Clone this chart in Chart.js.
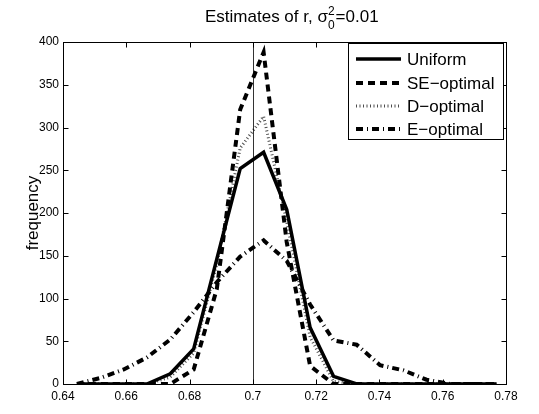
<!DOCTYPE html>
<html>
<head>
<meta charset="utf-8">
<script src="https://cdn.jsdelivr.net/npm/chart.js@4"></script>
<style>
  html, body { margin: 0; padding: 0; background: #fff; }
</style>
</head>
<body>
<canvas id="estimates" width="539" height="414"></canvas>
<script>
// histogram bin centres (estimate of r)
const binCenters = [0.6444, 0.6518, 0.6592, 0.6665, 0.6739, 0.6813, 0.6886, 0.6960, 0.7034, 0.7107,
                    0.7181, 0.7255, 0.7328, 0.7402, 0.7476, 0.7549, 0.7623, 0.7697, 0.7770];

// frequencies per design
const uniform   = [0, 0, 0, 0, 12, 41, 146, 252, 271, 204, 66, 9, 0, 0, 0, 0, 0, 0, 0];
const seOptimal = [0, 0, 0, 0, 0, 17, 111, 321, 388, 166, 21, 0, 0, 0, 0, 0, 0, 0, 0];
const dOptimal  = [0, 0, 0, 0, 8, 36, 140, 276, 313, 190, 55, 3, 0, 0, 0, 0, 0, 0, 0];
const eOptimal  = [0, 7, 17, 31, 52, 84, 119, 149, 168, 144, 93, 51, 46, 22, 16, 5, 0, 0, 0];

const seriesNames = ["Uniform", "SE\u2212optimal", "D\u2212optimal", "E\u2212optimal"];
const xTicks = [0.64, 0.66, 0.68, 0.7, 0.72, 0.74, 0.76, 0.78];
const yTicks = [0, 50, 100, 150, 200, 250, 300, 350, 400];
const trueR = 0.7;

const FONT = "'Liberation Sans', Arial, Helvetica, sans-serif";

function pts(ys) {
    return binCenters.map((x, i) => ({ x: x, y: ys[i] }));
}

const matlabLook = {
    id: "matlabLook",
    beforeDatasetsDraw(chart) {
        const ctx = chart.ctx;
        const area = chart.chartArea;
        const px = Math.round(chart.scales.x.getPixelForValue(trueR)) + 0.5;
        ctx.save();
        ctx.strokeStyle = "#333";
        ctx.lineWidth = 1;
        ctx.beginPath();
        ctx.moveTo(px, area.top);
        ctx.lineTo(px, area.bottom);
        ctx.stroke();
        ctx.restore();
    },
    afterDatasetsDraw(chart) {
        const ctx = chart.ctx;
        const area = chart.chartArea;
        const xs = chart.scales.x;
        const ys = chart.scales.y;
        ctx.save();

        // box + inward ticks
        ctx.strokeStyle = "#000";
        ctx.lineWidth = 1;
        ctx.setLineDash([]);
        const l = Math.round(area.left) + 0.5, r = Math.round(area.right) + 0.5;
        const t = Math.round(area.top) + 0.5, b = Math.round(area.bottom) + 0.5;
        ctx.strokeRect(l, t, r - l, b - t);
        ctx.beginPath();
        xTicks.forEach(v => {
            const p = Math.round(xs.getPixelForValue(v)) + 0.5;
            ctx.moveTo(p, b); ctx.lineTo(p, b - 5);
            ctx.moveTo(p, t); ctx.lineTo(p, t + 5);
        });
        yTicks.forEach(v => {
            const p = Math.round(ys.getPixelForValue(v)) + 0.5;
            ctx.moveTo(l, p); ctx.lineTo(l + 5, p);
            ctx.moveTo(r, p); ctx.lineTo(r - 5, p);
        });
        ctx.stroke();

        // legend
        const bx = 348, by = 43, bw = 155, bh = 96;
        ctx.fillStyle = "#fff";
        ctx.fillRect(bx, by, bw, bh);
        ctx.strokeRect(bx + 0.5, by + 0.5, bw, bh);
        const rows = [59, 83, 106, 129];
        ctx.font = "17px " + FONT;
        ctx.textBaseline = "middle";
        ctx.textAlign = "left";
        chart.data.datasets.forEach((ds, i) => {
            const y = rows[i];
            ctx.strokeStyle = ds.borderColor;
            ctx.lineWidth = ds.borderWidth;
            ctx.setLineDash(ds.borderDash || []);
            ctx.beginPath();
            ctx.moveTo(356, y);
            ctx.lineTo(401, y);
            ctx.stroke();
            ctx.setLineDash([]);
            ctx.fillStyle = "#000";
            ctx.fillText(ds.label, 407, y + 1);
        });

        // title with stacked sub/superscript
        const part1 = "Estimates of r, \u03c3";
        const part3 = "=0.01";
        ctx.font = "17px " + FONT;
        const w1 = ctx.measureText(part1).width;
        ctx.font = "12px " + FONT;
        const w2 = ctx.measureText("2").width;
        const x0 = 205;
        ctx.fillStyle = "#000";
        ctx.textBaseline = "alphabetic";
        ctx.font = "17px " + FONT;
        ctx.fillText(part1, x0, 22);
        ctx.font = "12px " + FONT;
        ctx.fillText("2", x0 + w1, 15);
        ctx.fillText("0", x0 + w1, 29);
        ctx.font = "17px " + FONT;
        ctx.fillText(part3, x0 + w1 + w2 + 1, 22);

        // y label
        ctx.save();
        ctx.translate(33, (area.top + area.bottom) / 2);
        ctx.rotate(-Math.PI / 2);
        ctx.textAlign = "center";
        ctx.textBaseline = "middle";
        ctx.font = "17px " + FONT;
        ctx.fillText("frequency", 0, 0);
        ctx.restore();

        ctx.restore();
    }
};

const estimatesConfig = {
    type: "line",
    data: {
        datasets: [
            {
                label: seriesNames[0],
                data: pts(uniform),
                borderColor: "#000",
                borderWidth: 3.5,
                order: 4
            },
            {
                label: seriesNames[1],
                data: pts(seOptimal),
                borderColor: "#000",
                borderWidth: 4,
                borderDash: [7, 5],
                order: 3
            },
            {
                label: seriesNames[2],
                data: pts(dOptimal),
                borderColor: "rgba(0,0,0,0.7)",
                borderWidth: 3,
                borderDash: [1, 2.5],
                order: 2
            },
            {
                label: seriesNames[3],
                data: pts(eOptimal),
                borderColor: "#000",
                borderWidth: 4,
                borderDash: [7, 4, 1, 4],
                order: 1
            }
        ]
    },
    options: {
        responsive: false,
        animation: false,
        elements: {
            point: { radius: 0 },
            line: { tension: 0, fill: false, borderCapStyle: "butt" }
        },
        layout: {
            padding: { top: 42, right: 33, bottom: 0, left: 0 }
        },
        plugins: {
            legend: { display: false },
            title: { display: false },
            tooltip: { enabled: false }
        },
        scales: {
            x: {
                type: "linear",
                min: 0.64,
                max: 0.78,
                afterBuildTicks: s => { s.ticks = xTicks.map(v => ({ value: v })); },
                afterFit: s => { s.height = 30; },
                grid: { display: false, drawTicks: false },
                border: { display: false },
                ticks: {
                    color: "#000",
                    padding: 5,
                    maxRotation: 0,
                    autoSkip: false,
                    font: { family: FONT, size: 12 },
                    callback: v => String(parseFloat(Number(v).toFixed(2)))
                }
            },
            y: {
                min: 0,
                max: 400,
                afterBuildTicks: s => { s.ticks = yTicks.map(v => ({ value: v })); },
                afterFit: s => { s.width = 63; },
                grid: { display: false, drawTicks: false },
                border: { display: false },
                ticks: {
                    color: "#000",
                    padding: 4,
                    font: { family: FONT, size: 12 }
                }
            }
        }
    },
    plugins: [matlabLook]
};

const estimatesChart = new Chart(document.getElementById("estimates").getContext("2d"), estimatesConfig);
</script>
</body>
</html>
